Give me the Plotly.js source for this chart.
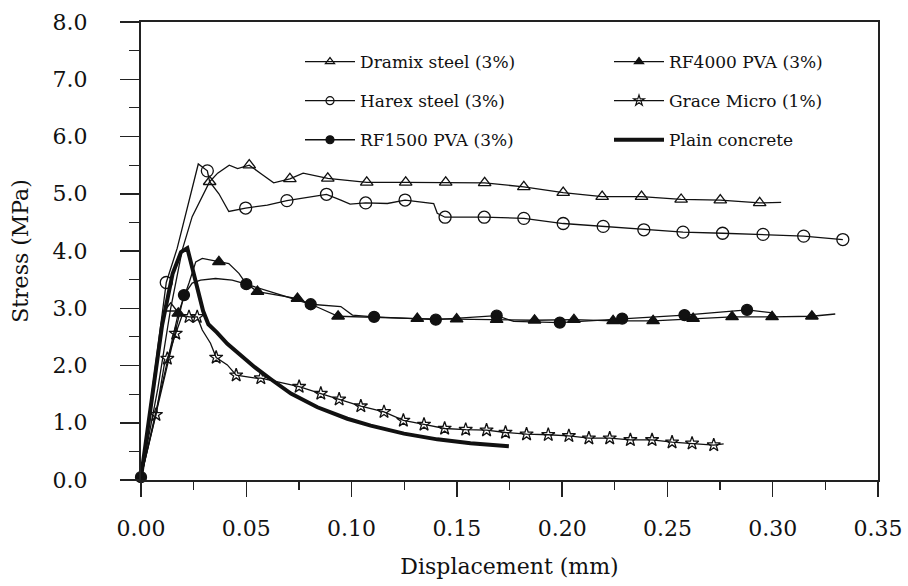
<!DOCTYPE html>
<html>
<head>
<meta charset="utf-8">
<script src="https://cdn.plot.ly/plotly-3.0.1.min.js"></script>
<style>html,body{margin:0;padding:0;background:#fff;}#chart{width:908px;height:586px;}</style>
</head>
<body>
<div id="chart"></div>
<script>
// ---- Data (displacement mm, stress MPa) ----
const dramixX = [0,0.008,0.0141,0.0196,0.0243,0.0326,0.0364,0.0419,0.0459,0.0514,0.057,0.063,0.0707,0.077,0.0887,0.095,0.1072,0.1257,0.1447,0.1632,0.1818,0.2005,0.219,0.2377,0.2565,0.2751,0.2938,0.304];
const dramixY = [0.05,1.6,3.0,4.02,4.6,5.21,5.36,5.50,5.44,5.50,5.35,5.19,5.26,5.36,5.27,5.25,5.2,5.2,5.2,5.19,5.12,5.02,4.95,4.95,4.9,4.89,4.84,4.85];
const dramixMarkX = [0.0141,0.0326,0.0514,0.0707,0.0887,0.1072,0.1257,0.1447,0.1632,0.1818,0.2005,0.219,0.2377,0.2565,0.2751,0.2938];
const dramixMarkY = [3.0,5.21,5.50,5.26,5.27,5.2,5.2,5.2,5.19,5.12,5.02,4.95,4.95,4.9,4.89,4.84];

const harexX = [0,0.006,0.012,0.0172,0.0272,0.0315,0.0326,0.037,0.0417,0.0497,0.06,0.0693,0.0881,0.0949,0.0993,0.1067,0.117,0.1254,0.139,0.1407,0.1444,0.163,0.1818,0.2005,0.2195,0.2388,0.2574,0.2762,0.2954,0.3147,0.3333];
const harexY = [0.05,1.75,3.45,4.05,5.52,5.40,5.21,5.0,4.69,4.75,4.8,4.88,4.99,4.89,4.82,4.84,4.83,4.89,4.83,4.66,4.59,4.59,4.57,4.48,4.43,4.37,4.33,4.31,4.29,4.26,4.20];
const harexMarkX = [0.012,0.0315,0.0497,0.0693,0.0881,0.1067,0.1254,0.1444,0.163,0.1818,0.2005,0.2195,0.2388,0.2574,0.2762,0.2954,0.3147,0.3333];
const harexMarkY = [3.45,5.40,4.75,4.88,4.99,4.84,4.89,4.59,4.59,4.57,4.48,4.43,4.37,4.33,4.31,4.29,4.26,4.20];

const rf1500X = [0,0.01,0.0204,0.0243,0.0283,0.0354,0.0433,0.05,0.065,0.0806,0.0949,0.1004,0.1107,0.14,0.1689,0.177,0.1989,0.2285,0.2581,0.2878,0.300];
const rf1500Y = [0.05,1.6,3.23,3.44,3.49,3.52,3.49,3.42,3.25,3.07,3.03,2.88,2.85,2.80,2.87,2.77,2.75,2.82,2.88,2.97,2.92];
const rf1500MarkX = [0,0.0204,0.05,0.0806,0.1107,0.14,0.1689,0.1989,0.2285,0.2581,0.2878];
const rf1500MarkY = [0.05,3.23,3.42,3.07,2.85,2.80,2.87,2.75,2.82,2.88,2.97];

const rf4000X = [0,0.009,0.0177,0.0228,0.026,0.0291,0.037,0.0417,0.0465,0.0497,0.0553,0.0743,0.085,0.0936,0.1312,0.1499,0.1689,0.1869,0.2056,0.2242,0.2432,0.2622,0.2807,0.2997,0.3186,0.3297];
const rf4000Y = [0.05,1.5,2.91,3.44,3.81,3.87,3.81,3.78,3.61,3.44,3.29,3.17,3.0,2.86,2.82,2.81,2.80,2.79,2.80,2.78,2.78,2.82,2.85,2.85,2.86,2.90];
const rf4000MarkX = [0.0177,0.037,0.0553,0.0743,0.0936,0.1312,0.1499,0.1689,0.1869,0.2056,0.2242,0.2432,0.2622,0.2807,0.2997,0.3186];
const rf4000MarkY = [2.91,3.81,3.29,3.17,2.86,2.82,2.81,2.80,2.79,2.80,2.78,2.78,2.82,2.85,2.85,2.86];

const graceX = [0,0.0071,0.011,0.0125,0.0165,0.0196,0.0228,0.0267,0.0291,0.033,0.0357,0.041,0.0452,0.0544,0.0569,0.0751,0.0854,0.0941,0.1044,0.1154,0.1246,0.1344,0.1442,0.1542,0.1641,0.1731,0.1831,0.1934,0.2032,0.2127,0.2226,0.2324,0.2427,0.2522,0.2617,0.2720,0.2767];
const graceY = [0.05,1.14,2.0,2.12,2.56,2.88,2.85,2.85,2.62,2.39,2.14,2.01,1.83,1.78,1.78,1.63,1.51,1.41,1.29,1.19,1.04,0.97,0.90,0.88,0.87,0.83,0.80,0.79,0.77,0.73,0.73,0.70,0.70,0.66,0.64,0.61,0.63];
const graceMarkX = [0.0071,0.0125,0.0165,0.0228,0.0267,0.0357,0.0452,0.0569,0.0751,0.0854,0.0941,0.1044,0.1154,0.1246,0.1344,0.1442,0.1542,0.1641,0.1731,0.1831,0.1934,0.2032,0.2127,0.2226,0.2324,0.2427,0.2522,0.2617,0.2720];
const graceMarkY = [1.14,2.12,2.56,2.85,2.85,2.14,1.83,1.78,1.63,1.51,1.41,1.29,1.19,1.04,0.97,0.90,0.88,0.87,0.83,0.80,0.79,0.77,0.73,0.73,0.70,0.70,0.66,0.64,0.61];

const plainX = [0,0.005,0.01,0.015,0.019,0.022,0.024,0.027,0.0295,0.032,0.036,0.041,0.047,0.054,0.0617,0.0712,0.0838,0.098,0.1091,0.1249,0.1407,0.1565,0.1747];
const plainY = [0.05,1.35,2.7,3.6,3.98,4.05,3.75,3.3,2.95,2.72,2.58,2.38,2.18,1.97,1.76,1.51,1.27,1.07,0.95,0.81,0.71,0.64,0.59];

const seriesNames = ['Dramix steel (3%)','Harex steel (3%)','RF1500 PVA (3%)','RF4000 PVA (3%)','Grace Micro (1%)','Plain concrete'];
const xTickVals = [0,0.05,0.10,0.15,0.20,0.25,0.30,0.35];
const xTickText = ['0.00','0.05','0.10','0.15','0.20','0.25','0.30','0.35'];
const yTickVals = [0,1,2,3,4,5,6,7,8];
const yTickText = ['0.0','1.0','2.0','3.0','4.0','5.0','6.0','7.0','8.0'];

// ---- Build traces ----
const INK = '#111';
const traces = [];
function addSeries(name, x, y, mx, my, sym, msize, legendId, lineW) {
  const line = {color: INK, width: lineW};
  traces.push({x: x, y: y, mode: 'lines', line: line, showlegend: false, legendgroup: name, hoverinfo: 'skip'});
  if (mx) {
    traces.push({x: mx, y: my, mode: 'markers', cliponaxis: false, showlegend: false, legendgroup: name,
      marker: {symbol: sym, size: msize, color: INK, line: {color: INK, width: 1.3}}});
  }
  traces.push({x: [null], y: [null], name: name, legend: legendId, legendgroup: name,
    mode: mx ? 'lines+markers' : 'lines', line: line,
    marker: {symbol: sym || 'circle', size: 8, color: INK, line: {color: INK, width: 1.2}}});
}
addSeries(seriesNames[0], dramixX, dramixY, dramixMarkX, dramixMarkY, 'triangle-up-open', 11, 'legend', 1.3);
addSeries(seriesNames[1], harexX, harexY, harexMarkX, harexMarkY, 'circle-open', 12, 'legend', 1.3);
addSeries(seriesNames[2], rf1500X, rf1500Y, rf1500MarkX, rf1500MarkY, 'circle', 11, 'legend', 1.3);
addSeries(seriesNames[3], rf4000X, rf4000Y, rf4000MarkX, rf4000MarkY, 'triangle-up', 11, 'legend2', 1.3);
addSeries(seriesNames[4], graceX, graceY, graceMarkX, graceMarkY, 'star-open', 10, 'legend2', 1.3);
addSeries(seriesNames[5], plainX, plainY, null, null, null, 0, 'legend2', 4);

const FONT = 'DejaVu Serif, Liberation Serif, serif';
const legendCommon = {
  font: {family: FONT, size: 17, color: INK},
  bgcolor: 'rgba(0,0,0,0)', borderwidth: 0,
  itemwidth: 50, tracegroupgap: 14, xanchor: 'left', yanchor: 'top', itemclick: false
};
const layout = {
  width: 908, height: 586,
  margin: {l: 141, r: 30, t: 22, b: 106},
  paper_bgcolor: '#fff', plot_bgcolor: '#fff',
  font: {family: FONT, color: INK},
  showlegend: true,
  xaxis: {
    range: [0, 0.35], tickvals: xTickVals, ticktext: xTickText,
    showgrid: false, zeroline: false, showline: true, mirror: true,
    linecolor: '#222', linewidth: 2, ticks: 'outside', ticklen: 15, tickwidth: 1.5, tickcolor: '#222',
    ticklabelstandoff: 13,
    minor: {dtick: 0.025, ticks: 'outside', ticklen: 8, tickwidth: 1.2, tickcolor: '#222'},
    tickfont: {family: FONT, size: 22, color: INK},
    title: {text: 'Displacement (mm)', font: {family: FONT, size: 22, color: INK}, standoff: 18}
  },
  yaxis: {
    range: [0, 8], tickvals: yTickVals, ticktext: yTickText,
    showgrid: false, zeroline: false, showline: true, mirror: true,
    linecolor: '#222', linewidth: 2, ticks: 'outside', ticklen: 19, tickwidth: 1.5, tickcolor: '#222',
    ticklabelstandoff: 28,
    minor: {dtick: 0.5, ticks: 'outside', ticklen: 10, tickwidth: 1.2, tickcolor: '#222'},
    tickfont: {family: FONT, size: 22, color: INK},
    title: {text: 'Stress (MPa)', font: {family: FONT, size: 22, color: INK}, standoff: 18}
  },
  legend: Object.assign({x: (300 - 141) / 737, y: (480 - 44) / 458}, legendCommon),
  legend2: Object.assign({x: (609 - 141) / 737, y: (480 - 44) / 458}, legendCommon)
};
Plotly.newPlot('chart', traces, layout, {displayModeBar: false, staticPlot: true});
</script>
</body>
</html>
